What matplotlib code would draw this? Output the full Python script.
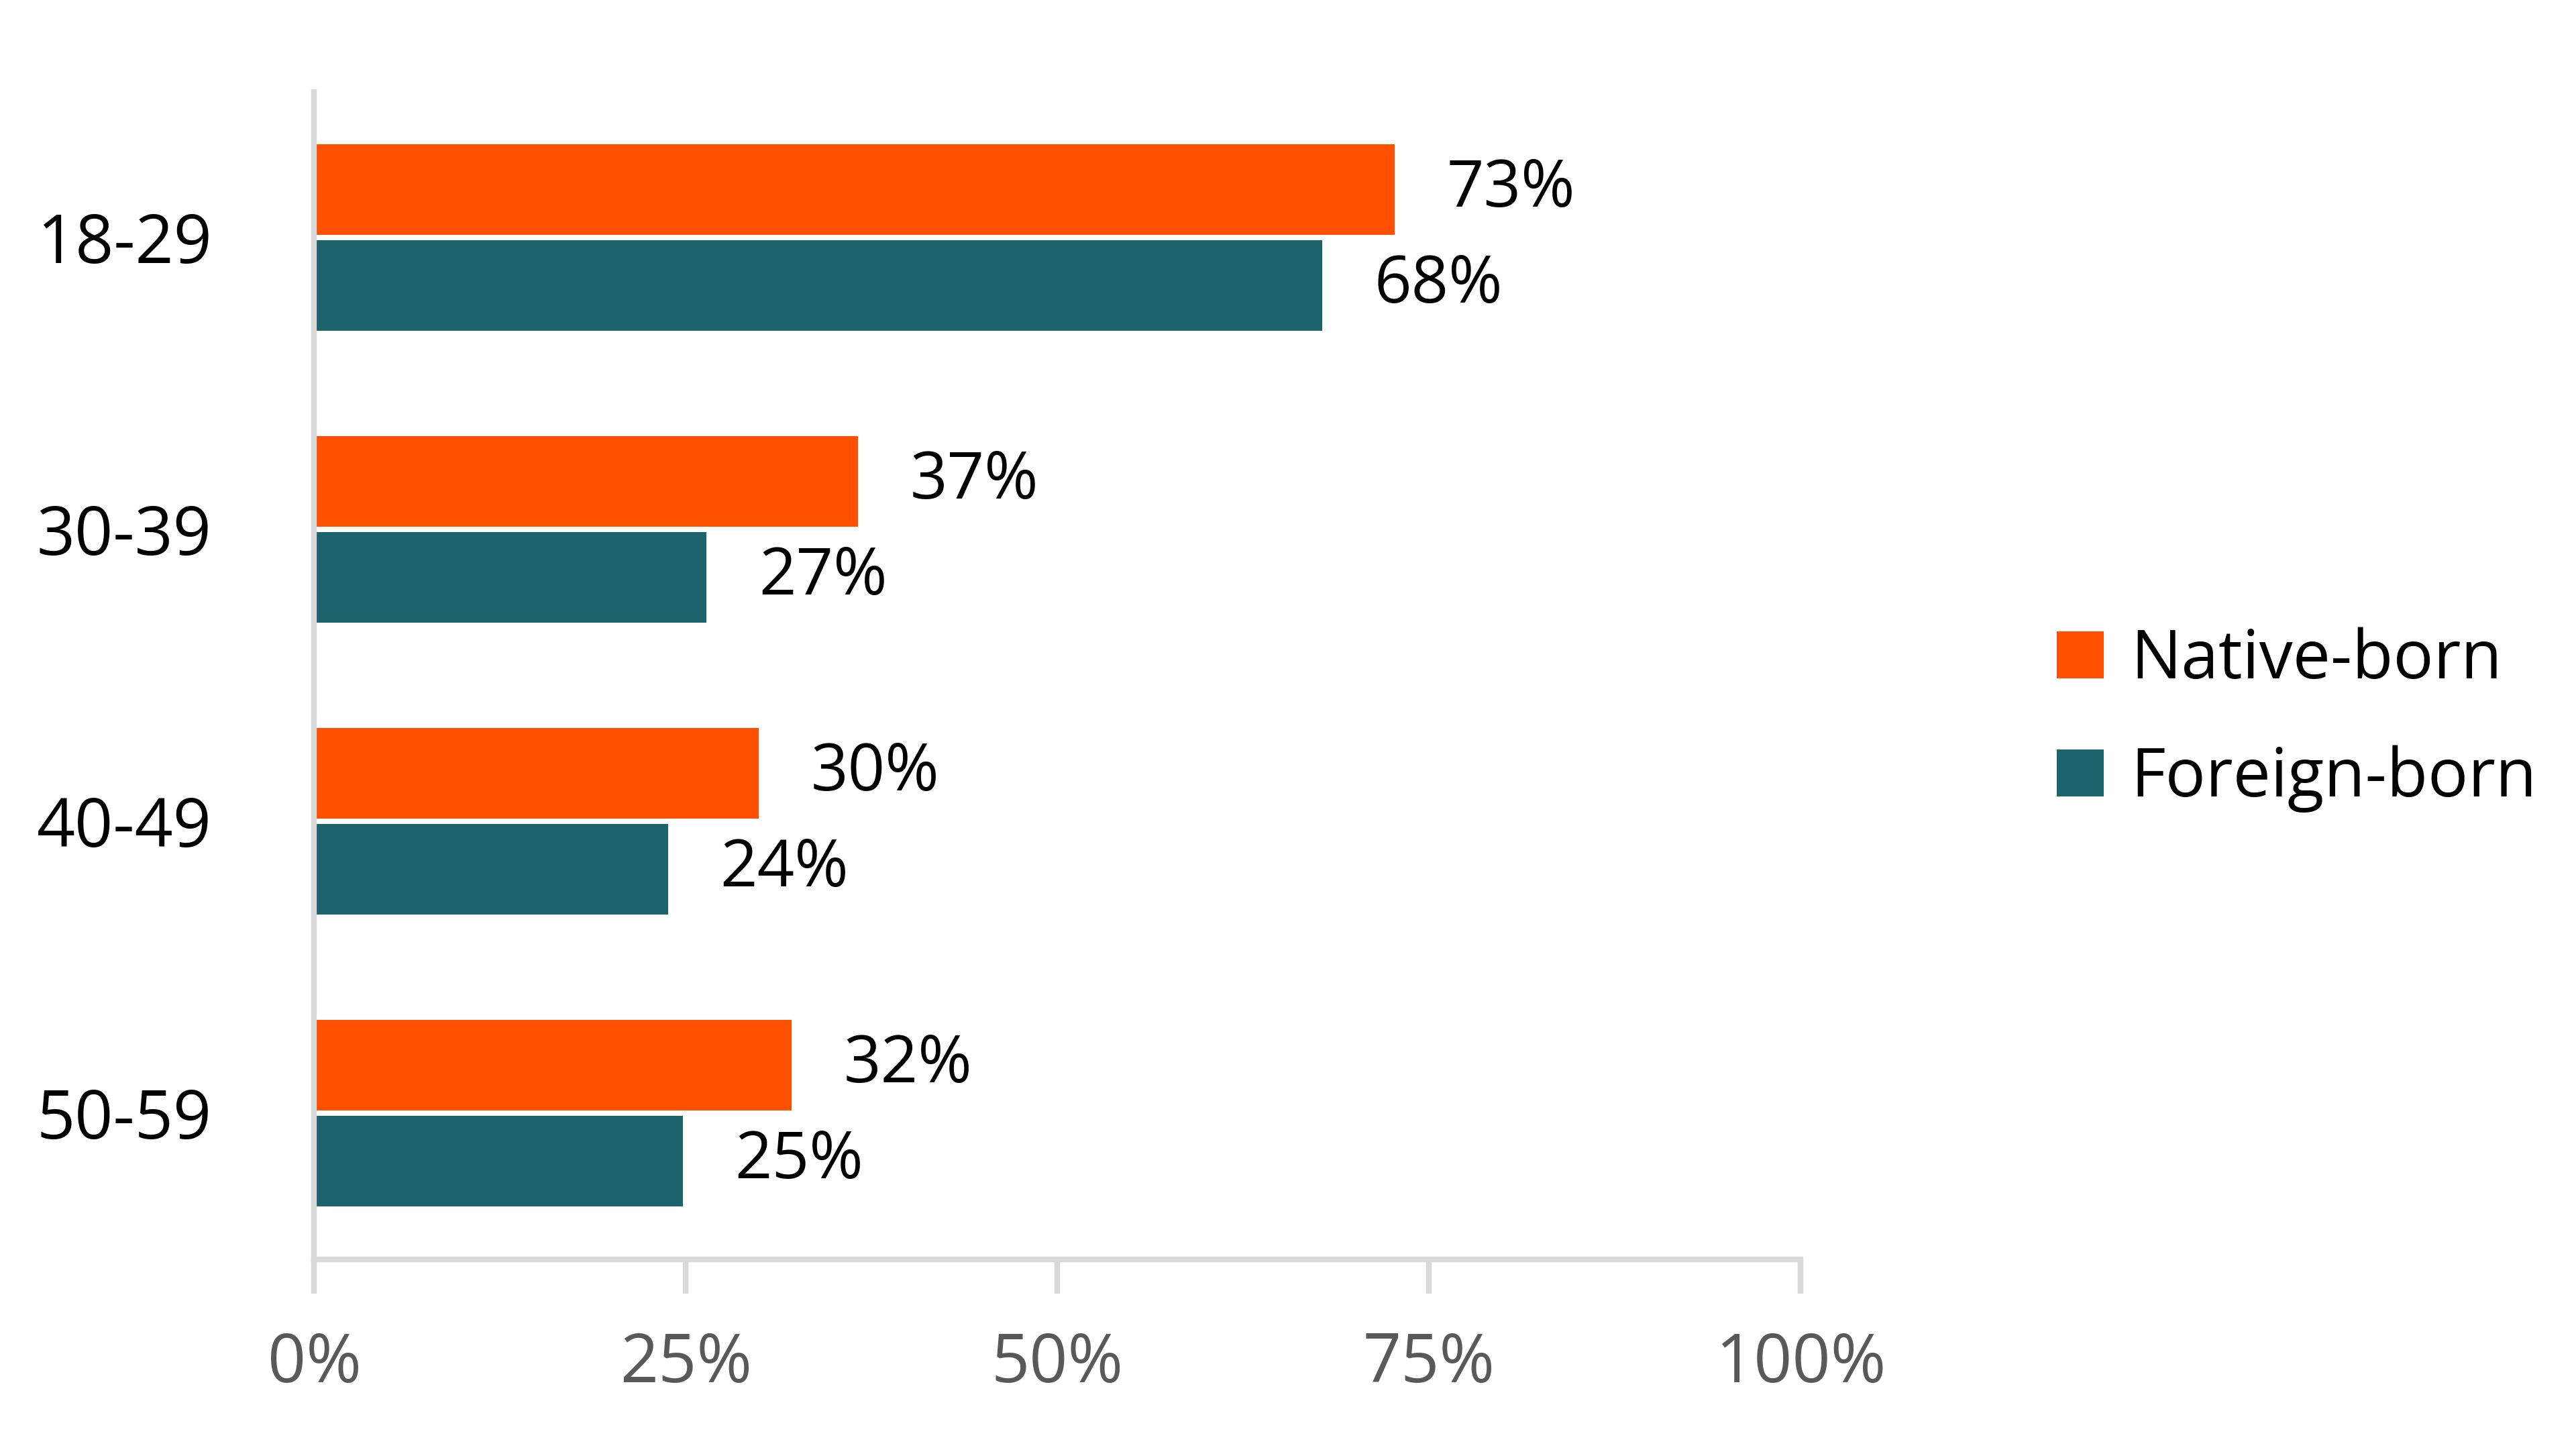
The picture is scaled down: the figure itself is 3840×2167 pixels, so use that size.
import matplotlib.pyplot as plt
import numpy as np

plt.rcParams['font.family'] = ['Open Sans', 'DejaVu Sans']

ages = ["18-29", "30-39", "40-49", "50-59"]
native = [72.7, 36.6, 29.9, 32.1]
foreign = [67.8, 26.4, 23.8, 24.8]
native_labels = ["73%", "37%", "30%", "32%"]
foreign_labels = ["68%", "27%", "24%", "25%"]
xticks = [0, 25, 50, 75, 100]

orange = "#FF5000"
teal = "#1C636B"

fig = plt.figure(figsize=(38.4, 21.67), dpi=100)
ax = fig.add_axes([0.122, 0.134, 0.577, 0.803])

y = np.arange(len(ages))
h = 0.31
ax.barh(y - h / 2 - 0.01, native, height=h, color=orange, label="Native-born")
ax.barh(y + h / 2 + 0.01, foreign, height=h, color=teal, label="Foreign-born")

for i in range(len(ages)):
    ax.text(native[i] + 3.5, y[i] - h / 2 - 0.01, native_labels[i], va="center", fontsize=70, color="black")
    ax.text(foreign[i] + 3.5, y[i] + h / 2 + 0.01, foreign_labels[i], va="center", fontsize=70, color="black")

ax.set_xlim(0, 100)
ax.set_ylim(3.5, -0.5)
ax.set_yticks(y)
ax.set_yticklabels(ages, fontsize=72)
ax.set_xticks(xticks)
ax.set_xticklabels([f"{t}%" for t in xticks], fontsize=72, color="#595959")
ax.tick_params(axis="y", length=0, pad=110)
ax.tick_params(axis="x", length=37, width=6, color="#d9d9d9", pad=40)

for s in ["top", "right"]:
    ax.spines[s].set_visible(False)
for s in ["left", "bottom"]:
    ax.spines[s].set_color("#d9d9d9")
    ax.spines[s].set_linewidth(6)

fig.legend(loc="center left", bbox_to_anchor=(0.775, 0.505), fontsize=72, frameon=False,
           handlelength=0.7, handleheight=0.7, handletextpad=0.4, labelspacing=0.75)

fig.savefig("out.png", dpi=100, facecolor="white")
